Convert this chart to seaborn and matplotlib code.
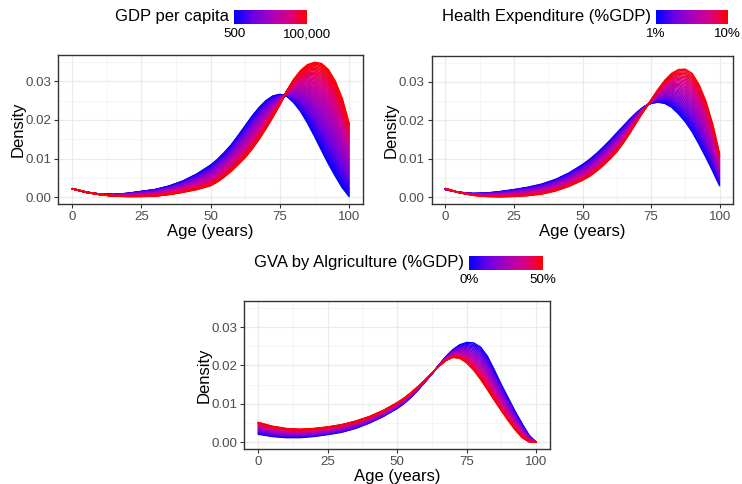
import numpy as np
import pandas as pd
import matplotlib
matplotlib.use("Agg")
import matplotlib.pyplot as plt
from matplotlib.colors import LinearSegmentedColormap, Normalize, LogNorm
from matplotlib.cm import ScalarMappable
from matplotlib.ticker import MultipleLocator, FormatStrFormatter
import seaborn as sns

AGES = [0, 5, 10, 15, 20, 25, 30, 35, 40, 45, 50, 52.5, 55, 57.5, 60, 62.5, 65,
        67.5, 70, 72.5, 75, 77.5, 80, 82.5, 85, 87.5, 90, 92.5, 95, 97.5, 100]

# GDP per capita: curve at 500 (blue) and at 100,000 (red)
GDP_LOW = [0.0022, 0.0013, 0.0008, 0.0007, 0.0010, 0.0015, 0.0020, 0.0029, 0.0042,
           0.0060, 0.0083, 0.0098, 0.0116, 0.0136, 0.0160, 0.0185, 0.0210, 0.0232,
           0.0250, 0.0262, 0.0266, 0.0262, 0.0245, 0.0222, 0.0192, 0.0158, 0.0122,
           0.0087, 0.0055, 0.0025, 0.0002]
GDP_HIGH = [0.0022, 0.0013, 0.0007, 0.0003, 0.0002, 0.0002, 0.0003, 0.0007, 0.0013,
            0.0020, 0.0030, 0.0040, 0.0053, 0.0068, 0.0085, 0.0103, 0.0125, 0.0150,
            0.0178, 0.0208, 0.0240, 0.0275, 0.0305, 0.0328, 0.0343, 0.0349, 0.0346,
            0.0330, 0.0300, 0.0255, 0.0190]
GDP_LEVELS = [500, 550, 600, 660, 730, 800, 880, 970, 1070, 1180, 1300, 1430, 1570,
              1730, 1900, 2100, 2300, 2550, 2800, 3100, 3400, 3750, 4100, 4500, 5000,
              5500, 6100, 6700, 7400, 8100, 8900, 9800, 10800, 11900, 13100, 14400,
              15800, 17400, 19200, 21100, 23200, 25500, 28100, 30900, 34000, 37400,
              41100, 45200, 49700, 54700, 60200, 66200, 72800, 80100, 88100, 94000,
              100000]

# Health expenditure: curve at 1% (blue) and at 10% (red)
HEALTH_LOW = [0.0020, 0.0013, 0.0010, 0.0011, 0.0015, 0.0020, 0.0026, 0.0034, 0.0046,
              0.0063, 0.0085, 0.0098, 0.0113, 0.0130, 0.0148, 0.0167, 0.0186, 0.0205,
              0.0222, 0.0236, 0.0244, 0.0247, 0.0244, 0.0234, 0.0217, 0.0196, 0.0170,
              0.0138, 0.0104, 0.0068, 0.0030]
HEALTH_HIGH = [0.0023, 0.0012, 0.0005, 0.0002, 0.0001, 0.0002, 0.0004, 0.0008, 0.0016,
               0.0028, 0.0044, 0.0054, 0.0067, 0.0082, 0.0099, 0.0118, 0.0142, 0.0169,
               0.0198, 0.0226, 0.0253, 0.0280, 0.0304, 0.0322, 0.0332, 0.0333, 0.0322,
               0.0293, 0.0250, 0.0190, 0.0113]
HEALTH_LEVELS = [1, 1.25, 1.5, 1.75, 2, 2.25, 2.5, 2.75, 3, 3.25, 3.5, 3.75, 4, 4.25,
                 4.5, 4.75, 5, 5.25, 5.5, 5.75, 6, 6.25, 6.5, 6.75, 7, 7.25, 7.5, 7.75,
                 8, 8.25, 8.5, 8.75, 9, 9.25, 9.5, 9.75, 10]

# GVA by agriculture: curve at 0% (blue) and at 50% (red)
AGRI_LOW = [0.0021, 0.0015, 0.0012, 0.0012, 0.0015, 0.0020, 0.0026, 0.0036, 0.0050,
            0.0067, 0.0088, 0.0101, 0.0117, 0.0136, 0.0157, 0.0178, 0.0201, 0.0223,
            0.0241, 0.0254, 0.0260, 0.0259, 0.0248, 0.0224, 0.0188, 0.0150, 0.0115,
            0.0080, 0.0048, 0.0018, 0.0000]
AGRI_HIGH = [0.0052, 0.0042, 0.0036, 0.0034, 0.0036, 0.0040, 0.0046, 0.0055, 0.0067,
             0.0083, 0.0103, 0.0115, 0.0129, 0.0145, 0.0162, 0.0180, 0.0198, 0.0213,
             0.0221, 0.0219, 0.0207, 0.0188, 0.0164, 0.0137, 0.0109, 0.0082, 0.0056,
             0.0032, 0.0012, 0.0001, 0.0000]
AGRI_LEVELS = [0, 2.5, 5, 7.5, 10, 12.5, 15, 17.5, 20, 22.5, 25, 27.5, 30, 32.5, 35,
               37.5, 40, 42.5, 45, 46, 47, 48, 49, 50]

sns.set_theme(style="whitegrid")
plt.rcParams["font.family"] = ["Liberation Sans", "DejaVu Sans"]

CMAP = LinearSegmentedColormap.from_list(
    "bluered", ["#0000FF", "#6A00E6", "#A600BE", "#D6008A", "#FF0000"])

W, H = 742, 484


def fan(low, high, levels, log=False):
    # one curve per covariate level, sliding from the blue to the red curve
    lv = np.log(levels) if log else np.asarray(levels, float)
    w = (lv - lv.min()) / (lv.max() - lv.min())
    frames = []
    for wi in w:
        dens = (1 - wi) * np.asarray(low) + wi * np.asarray(high)
        frames.append(pd.DataFrame({"age": AGES, "density": dens, "w": wi}))
    return pd.concat(frames, ignore_index=True)


def panel(rect, df, lw):
    ax = fig.add_axes(rect)
    sns.lineplot(data=df, x="age", y="density", hue="w", palette=CMAP,
                 hue_norm=(0, 1), units="w", estimator=None, legend=False,
                 lw=lw, sort=False, ax=ax)
    ax.set_xlim(-5, 105)
    ax.set_ylim(-0.00175, 0.0368)
    ax.xaxis.set_major_locator(MultipleLocator(25))
    ax.xaxis.set_minor_locator(MultipleLocator(12.5))
    ax.yaxis.set_major_locator(MultipleLocator(0.01))
    ax.yaxis.set_minor_locator(MultipleLocator(0.005))
    ax.yaxis.set_major_formatter(FormatStrFormatter("%.2f"))
    ax.grid(which="major", color="#EBEBEB", lw=0.9)
    ax.grid(which="minor", color="#F2F2F2", lw=0.5)
    ax.set_axisbelow(True)
    for s in ax.spines.values():
        s.set_color("#333333")
        s.set_linewidth(1.0)
    ax.tick_params(which="major", bottom=True, left=True, direction="out",
                   length=3, width=0.8, color="#333333", labelcolor="#4D4D4D",
                   labelsize=9.6, pad=2)
    ax.tick_params(which="minor", length=0)
    ax.set_xlabel("Age (years)", fontsize=12, color="black", labelpad=1)
    ax.set_ylabel("Density", fontsize=12, color="black", labelpad=0)
    return ax


def colorbar(x0, x1, y0, y1, norm, ticks, labels, title):
    cax = fig.add_axes([x0 / W, 1 - y1 / H, (x1 - x0) / W, (y1 - y0) / H])
    cb = fig.colorbar(ScalarMappable(norm=norm, cmap=CMAP), cax=cax,
                      orientation="horizontal", ticks=ticks)
    cax.minorticks_off()
    cb.set_ticks(ticks)
    cb.set_ticklabels(labels)
    cb.outline.set_visible(False)
    cax.tick_params(length=0, labelsize=9.6, labelcolor="black", pad=3)
    fig.text((x0 - 5) / W, 1 - (y0 + y1) / 2 / H, title, ha="right",
             va="center", fontsize=12, color="black")


fig = plt.figure(figsize=(W / 100, H / 100), dpi=100)

panel([58.3 / W, 1 - 204 / H, 304.7 / W, 149 / H],
      fan(GDP_LOW, GDP_HIGH, GDP_LEVELS, log=True), 1.1)
panel([431.7 / W, 1 - 204 / H, 301.6 / W, 148.3 / H],
      fan(HEALTH_LOW, HEALTH_HIGH, HEALTH_LEVELS), 1.0)
panel([244.3 / W, 1 - 449 / H, 305.7 / W, 148 / H],
      fan(AGRI_LOW, AGRI_HIGH, AGRI_LEVELS), 1.0)

colorbar(234.3, 307.3, 10, 24, LogNorm(500, 100000), [500, 100000],
         ["500", "100,000"], "GDP per capita")
colorbar(656, 727.7, 10, 24, Normalize(1, 10), [1, 10],
         ["1%", "10%"], "Health Expenditure (%GDP)")
colorbar(469.3, 542.7, 256, 270, Normalize(0, 50), [0, 50],
         ["0%", "50%"], "GVA by Algriculture (%GDP)")

fig.savefig("out.png", dpi=100)
